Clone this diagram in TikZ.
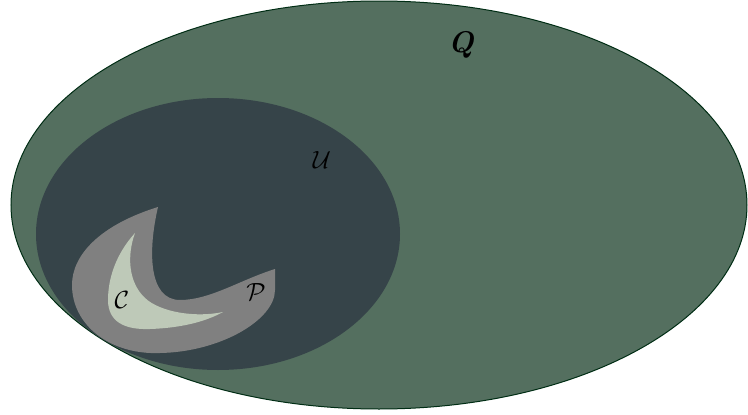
\documentclass[tikz,border=0pt]{standalone}
\definecolor{qgreen}{RGB}{84,111,95}
\definecolor{qedge}{RGB}{0,45,20}
\definecolor{udark}{RGB}{54,68,73}
\definecolor{pgray}{RGB}{128,128,128}
\definecolor{clight}{RGB}{190,201,184}
\tikzset{lab/.style={inner sep=0pt, font=\fontsize{26}{30}\selectfont}}
\begin{document}
\begin{tikzpicture}[x=1pt,y=-1pt]
\useasboundingbox (0,0) rectangle (748,415);
% Q
\fill[qgreen, draw=qedge, line width=1pt] (379,205) ellipse [x radius=368, y radius=204];
% U
\fill[udark] (218,234) ellipse [x radius=182, y radius=136];
% P
\fill[pgray] (158,207) .. controls (100,225) and (72,255) .. (72,285)
  .. controls (72,325) and (110,355) .. (160,353)
  .. controls (220,352) and (275,320) .. (275,290) -- (275,269)
  .. controls (240,280) and (210,300) .. (180,300)
  .. controls (148,300) and (148,250) .. (158,207) -- cycle;
% C
\fill[clight] (135,233) .. controls (115,255) and (108,280) .. (108,300)
  .. controls (108,322) and (125,330) .. (150,329)
  .. controls (180,328) and (205,322) .. (223,312)
  .. controls (195,318) and (160,312) .. (145,298)
  .. controls (128,282) and (127,255) .. (135,233) -- cycle;
\node[lab, font=\fontsize{30}{34}\selectfont\bfseries\itshape] (q) at (461,45) {Q};
\node[lab] (u) at (322,160) {$\mathcal{U}$};
\node[lab] (c) at (122,300) {$\mathcal{C}$};
\node[lab] (p) at (256,292) {$\mathcal{P}$};
\end{tikzpicture}
\end{document}
